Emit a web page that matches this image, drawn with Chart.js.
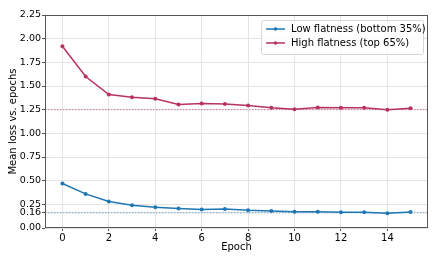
<!DOCTYPE html>
<html lang="en">
<head>
    <meta charset="UTF-8">
    <title>Mean loss vs. epochs</title>
    <script src="https://cdn.jsdelivr.net/npm/chart.js"></script>
    <style>
        html, body { margin: 0; padding: 0; background: #fff; }
        #wrap { width: 439px; height: 263px; }
    </style>
</head>
<body>
    <div id="wrap"><canvas id="lossChart" width="439" height="263"></canvas></div>

    <script>
        const epochs = [0, 1, 2, 3, 4, 5, 6, 7, 8, 9, 10, 11, 12, 13, 14, 15];
        const lowFlatness = [0.47, 0.36, 0.28, 0.24, 0.22, 0.205, 0.195, 0.20, 0.187, 0.18, 0.172, 0.172, 0.166, 0.166, 0.156, 0.168];
        const highFlatness = [1.92, 1.60, 1.41, 1.38, 1.365, 1.305, 1.315, 1.31, 1.295, 1.27, 1.255, 1.274, 1.27, 1.27, 1.25, 1.264];
        const refLines = [0.16, 1.25]; // horizontal reference lines (low, high)
        const yTicks = [0, 0.16, 0.25, 0.5, 0.75, 1.0, 1.25, 1.5, 1.75, 2.0, 2.25];
        const xTicks = [0, 2, 4, 6, 8, 10, 12, 14];
        const seriesLabels = ["Low flatness (bottom 35%)", "High flatness (top 65%)"];

        const BLUE = "#1f77b4";
        const RED = "#b8325f";
        const FONT = "'DejaVu Sans', sans-serif";

        // frame around the plot + matplotlib-like legend inside the axes
        const framePlugin = {
            id: "frame",
            afterDatasetsDraw(chart) {
                const { ctx, chartArea: a } = chart;
                ctx.save();
                ctx.strokeStyle = "#555";
                ctx.lineWidth = 1;
                ctx.strokeRect(a.left + 0.5, a.top + 0.5, a.right - a.left - 1, a.bottom - a.top - 1);

                // legend
                const bx = a.right - 167, by = a.top + 5, bw = 162, bh = 34;
                ctx.fillStyle = "rgba(255,255,255,0.8)";
                ctx.strokeStyle = "#d6d6d6";
                ctx.beginPath();
                ctx.roundRect(bx + 0.5, by + 0.5, bw, bh, 2);
                ctx.fill();
                ctx.stroke();
                ctx.font = "10px " + FONT;
                ctx.textBaseline = "middle";
                const items = chart.data.datasets.filter(d => !d.isRef);
                items.forEach((d, i) => {
                    const y = by + 9 + i * 14;
                    ctx.strokeStyle = d.borderColor;
                    ctx.lineWidth = 1.5;
                    ctx.beginPath();
                    ctx.moveTo(bx + 5, y);
                    ctx.lineTo(bx + 24, y);
                    ctx.stroke();
                    ctx.fillStyle = d.borderColor;
                    ctx.beginPath();
                    ctx.arc(bx + 14.5, y, 1.8, 0, Math.PI * 2);
                    ctx.fill();
                    ctx.fillStyle = "#000";
                    ctx.fillText(d.label, bx + 30, y);
                });
                ctx.restore();
            }
        };

        function seriesPoints(values) {
            return epochs.map((e, i) => ({ x: e, y: values[i] }));
        }

        new Chart(document.getElementById("lossChart"), {
            type: "line",
            data: {
                datasets: [
                    {
                        label: "ref low", isRef: true,
                        data: [{ x: -0.75, y: refLines[0] }, { x: 15.75, y: refLines[0] }],
                        borderColor: "rgba(31,119,180,0.6)", borderWidth: 1, borderDash: [1.5, 1.5],
                        pointRadius: 0
                    },
                    {
                        label: "ref high", isRef: true,
                        data: [{ x: -0.75, y: refLines[1] }, { x: 15.75, y: refLines[1] }],
                        borderColor: "rgba(184,50,95,0.6)", borderWidth: 1, borderDash: [1.5, 1.5],
                        pointRadius: 0
                    },
                    {
                        label: seriesLabels[0],
                        data: seriesPoints(lowFlatness),
                        borderColor: BLUE, backgroundColor: BLUE,
                        borderWidth: 1.5, pointRadius: 2, pointBorderWidth: 0
                    },
                    {
                        label: seriesLabels[1],
                        data: seriesPoints(highFlatness),
                        borderColor: RED, backgroundColor: RED,
                        borderWidth: 1.5, pointRadius: 2, pointBorderWidth: 0
                    }
                ]
            },
            options: {
                responsive: false,
                animation: false,
                layout: { padding: { left: 7, right: 11, top: 15, bottom: 10 } },
                plugins: { legend: { display: false }, tooltip: { enabled: false } },
                scales: {
                    x: {
                        type: "linear", min: -0.75, max: 15.75,
                        afterBuildTicks: s => { s.ticks = xTicks.map(v => ({ value: v })); },
                        afterFit: s => { s.height = 25; },
                        grid: { color: "#e3e3e3", tickColor: "#555", tickLength: 3 },
                        border: { display: false },
                        ticks: { color: "#000", font: { family: FONT, size: 10 }, padding: 1, maxRotation: 0 },
                        title: { display: true, text: "Epoch", color: "#000", font: { family: FONT, size: 10 }, padding: { top: 0, bottom: 0 } }
                    },
                    y: {
                        type: "linear", min: 0, max: 2.25,
                        afterBuildTicks: s => { s.ticks = yTicks.map(v => ({ value: v })); },
                        afterFit: s => { s.width = 38; },
                        grid: { color: "#e3e3e3", tickColor: "#555", tickLength: 3 },
                        border: { display: false },
                        ticks: { color: "#000", font: { family: FONT, size: 9.5 }, padding: 1, callback: v => v.toFixed(2) },
                        title: { display: true, text: "Mean loss vs. epochs", color: "#000", font: { family: FONT, size: 10 }, padding: { top: 0, bottom: 2 } }
                    }
                }
            },
            plugins: [framePlugin]
        });
    </script>
</body>
</html>
